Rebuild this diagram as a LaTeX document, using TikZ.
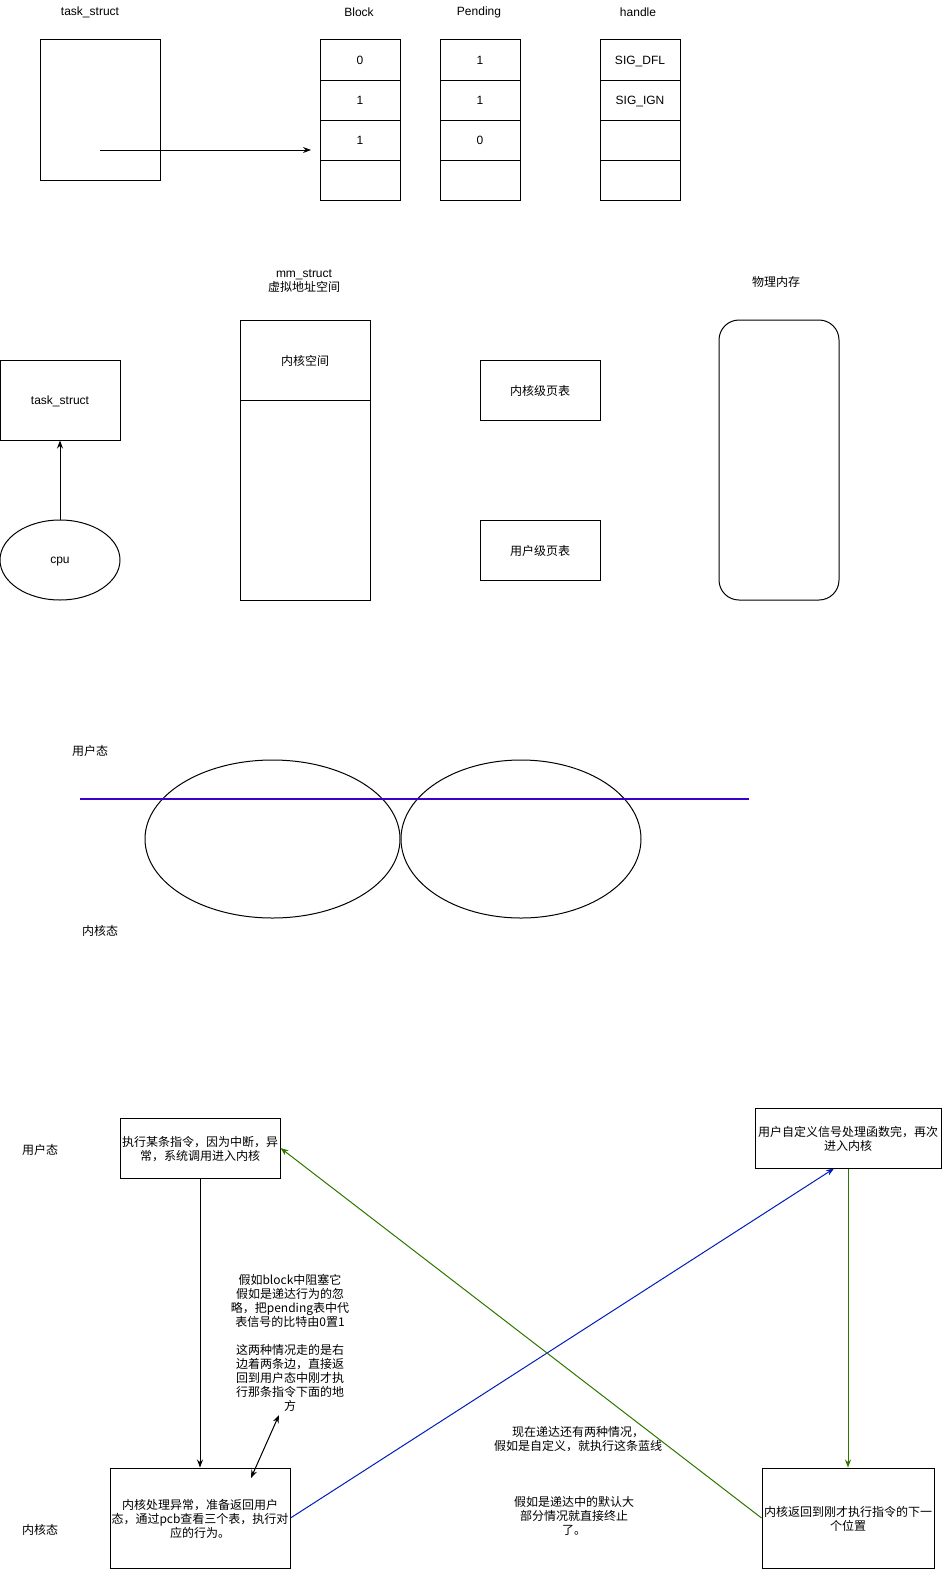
\documentclass[tikz,border=0pt]{standalone}
\usepackage{fontspec}
\setmainfont{Liberation Sans}
\newfontfamily\cjk{Noto Sans CJK SC}
\usetikzlibrary{arrows.meta,shapes.geometric,calc}
\definecolor{violetline}{RGB}{55,0,204}
\definecolor{blueline}{RGB}{0,29,188}
\definecolor{greenline}{RGB}{45,118,0}
\begin{document}
\begin{tikzpicture}[x=1pt,y=-1pt,
  every node/.style={font=\fontsize{12}{14}\selectfont, inner sep=0pt},
  lbl/.style={yshift=-1.5pt},
  zh/.style={font=\cjk\fontsize{12}{14}\selectfont, align=center},
  cell/.style={draw, line width=1pt, minimum width=80pt, minimum height=40pt, text depth=0pt},
  boxn/.style={draw, line width=1pt, align=center, text depth=0pt},
  conn/.style={line width=1pt, -{Stealth[length=8pt,width=6pt]}},
]
\useasboundingbox (0,0) rectangle (944,1571);

% ---------- top section ----------
\node[lbl] (tsl) at (90,11) {task\_struct};
\node[lbl] (bl) at (359,11) {Block};
\node[lbl] (pl) at (479,11) {Pending};
\node[lbl] (hl) at (638,11) {handle};

\node[draw, line width=1pt, minimum width=120pt, minimum height=140pt] (ts1) at (100,110) {};

\node[cell] (b1) at (360,60) {0};
\node[cell] (b2) at (360,100) {1};
\node[cell] (b3) at (360,140) {1};
\node[cell] (b4) at (360,180) {};

\node[cell] (p1) at (480,60) {1};
\node[cell] (p2) at (480,100) {1};
\node[cell] (p3) at (480,140) {0};
\node[cell] (p4) at (480,180) {};

\node[cell] (h1) at (640,60) {SIG\_DFL};
\node[cell] (h2) at (640,100) {SIG\_IGN};
\node[cell] (h3) at (640,140) {};
\node[cell] (h4) at (640,180) {};

\coordinate (ptrs) at (100,150);
\coordinate (ptre) at (311,150);
\draw[conn] (ptrs) -- (ptre);

% ---------- middle section ----------
\node[lbl, align=center] (mml) at (304,280) {mm\_struct\\{\cjk 虚拟地址空间}};
\node[lbl, zh] (pml) at (776,280) {物理内存};

\node[boxn, minimum width=120pt, minimum height=80pt] (ts2) at (60,400) {task\_struct};
\node[draw, line width=1pt, ellipse, minimum width=120pt, minimum height=80pt, text depth=0pt] (cpu) at (60,560) {cpu};
\draw[conn] (cpu.north) -- (ts2.south);

\node[boxn, zh, minimum width=130pt, minimum height=80pt] (ks) at (305,360) {内核空间};
\node[boxn, minimum width=130pt, minimum height=200pt] (us) at (305,500) {};

\node[boxn, zh, minimum width=120pt, minimum height=60pt] (kpt) at (540,390) {内核级页表};
\node[boxn, zh, minimum width=120pt, minimum height=60pt] (upt) at (540,550) {用户级页表};

\node[draw, line width=1pt, rounded corners=20pt, minimum width=120pt, minimum height=280pt] (pm) at (779,460) {};

% ---------- third section ----------
\node[lbl, zh] (u1) at (90,749) {用户态};
\node[lbl, zh] (k1) at (100,929) {内核态};
\node[draw, ellipse, line width=1pt, minimum width=255pt, minimum height=158pt] (e1) at (272.5,839) {};
\node[draw, ellipse, line width=1pt, minimum width=240pt, minimum height=158pt] (e2) at (521,839) {};
\coordinate (vl1) at (80,799);
\coordinate (vl2) at (749,799);
\draw[violetline, line width=1.2pt] (vl1) -- (vl2);

% ---------- bottom section ----------
\node[lbl, zh] (u2) at (40,1148) {用户态};
\node[lbl, zh] (k2) at (40,1528) {内核态};

\node[boxn, zh, minimum width=160pt, minimum height=60pt] (box1) at (200,1148) {执行某条指令，因为中断，异\\常，系统调用进入内核};
\node[boxn, zh, minimum width=186pt, minimum height=60pt] (box2) at (848,1138) {用户自定义信号处理函数完，再次\\进入内核};
\node[boxn, zh, minimum width=180pt, minimum height=100pt] (box3) at (200,1518) {内核处理异常，准备返回用户\\态，通过pcb查看三个表，执行对\\应的行为。};
\node[boxn, zh, minimum width=172pt, minimum height=100pt] (box4) at (848,1518) {内核返回到刚才执行指令的下一\\个位置};

\node[lbl, zh] (note1) at (290,1341) {假如block中阻塞它\\假如是递达行为的忽\\略，把pending表中代\\表信号的比特由0置1\\ \\这两种情况走的是右\\边着两条边，直接返\\回到用户态中刚才执\\行那条指令下面的地\\方};
\node[lbl, zh] (note2) at (578,1438) {现在递达还有两种情况，\\假如是自定义，就执行这条蓝线};
\node[lbl, zh] (note3) at (574,1514) {假如是递达中的默认大\\部分情况就直接终止\\了。};

\draw[conn] (box1.south) -- (box3.north);
\coordinate (da1) at (279,1415);
\coordinate (da2) at (251,1478);
\draw[line width=1pt, {Stealth[length=8pt,width=6pt]}-{Stealth[length=8pt,width=6pt]}] (da1) -- (da2);

\draw[conn, blueline] (box3.east) -- ([xshift=-14pt]box2.south);
\draw[conn, greenline] (box2.south) -- (box4.north);
\draw[conn, greenline] (box4.west) -- (box1.east);
\end{tikzpicture}
\end{document}
